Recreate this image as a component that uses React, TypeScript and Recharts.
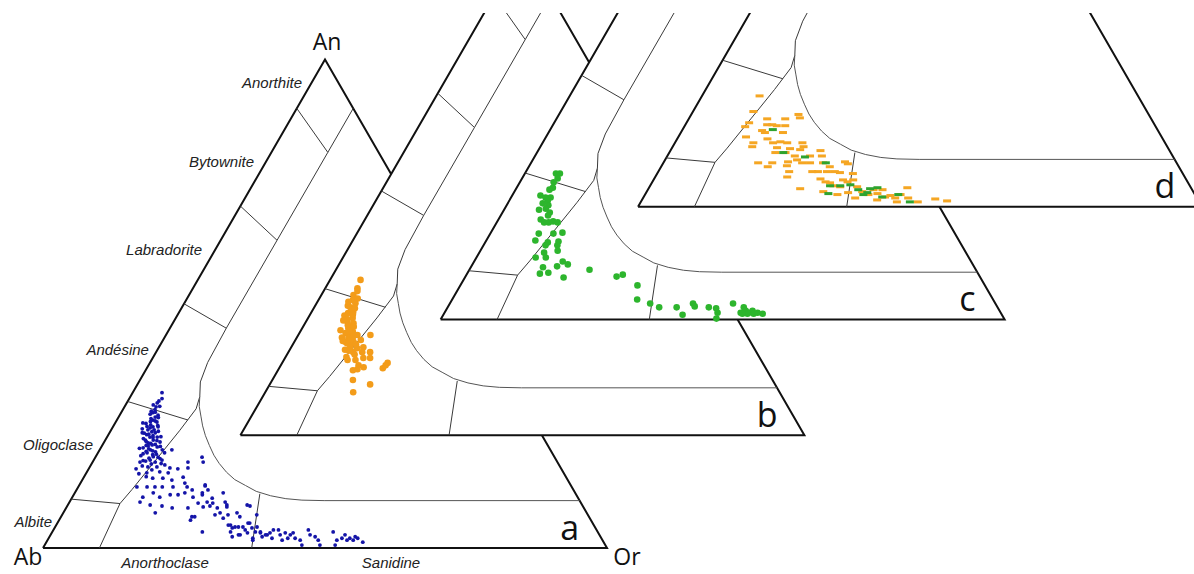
import React from 'react';
import { ScatterChart, Scatter, XAxis, YAxis } from 'recharts';

// Feldspar compositions, each as [An %, Or %] (Ab = 100 - An - Or)
const sampleA: [number, number][] = [
  [31.8,5.2],[30.1,5.5],[29.7,5.4],[28.9,5.6],[28.3,5.7],[27.7,5.6],[26.8,6.5],[26.2,6.4],[25.8,7.3],[25.2,6.5],
  [24.8,7.1],[24.8,8.0],[24.2,6.5],[23.8,7.4],[23.6,8.1],[23.2,6.8],[22.7,7.6],[22.7,8.9],[22.1,7.1],[22.1,8.5],
  [21.7,9.9],[21.5,7.9],[21.1,8.8],[20.7,9.9],[20.5,7.5],[20.1,9.0],[19.7,10.1],[20.1,11.1],[19.5,8.7],[19.1,9.9],
  [18.6,11.1],[18.0,10.0],[17.6,11.1],[18.0,12.1],[17.6,8.4],[25.6,4.9],[23.6,5.8],[20.1,12.8],[16.2,8.4],[16.6,10.3],
  [16.6,11.9],[17.0,13.1],[16.4,14.3],[15.4,10.7],[15.6,12.9],[15.4,14.5],[16.2,15.8],[16.4,17.5],[17.6,16.9],[18.6,18.9],
  [17.6,19.6],[14.3,12.3],[14.3,14.1],[13.9,15.9],[14.5,17.6],[13.3,18.5],[12.5,10.4],[12.5,12.2],[12.5,13.6],[12.5,14.9],
  [12.5,16.8],[12.5,19.3],[11.9,20.5],[12.7,22.4],[11.9,23.3],[10.4,12.5],[11.3,13.9],[10.4,15.5],[10.9,17.1],[10.9,18.5],
  [11.3,19.5],[10.4,21.4],[10.9,22.8],[10.2,24.9],[11.3,26.3],[9.4,12.5],[8.8,14.6],[8.6,16.8],[8.2,18.8],[8.2,21.6],
  [9.2,22.9],[8.4,24.2],[8.6,25.3],[8.8,28.2],[8.2,26.8],[7.2,16.3],[6.4,23.2],[5.7,23.3],[6.4,23.7],[6.8,27.1],
  [7.2,27.8],[6.8,29.4],[7.2,30.8],[8.8,31.8],[8.6,32.4],[4.7,30.9],[4.3,31.9],[4.3,32.5],[5.1,33.8],[3.3,31.6],
  [3.3,26.6],[2.7,33.3],[3.1,34.7],[6.8,34.5],[4.3,35.8],[3.3,36.9],[2.7,38.4],[2.0,36.2],[2.3,37.7],
  [12.9,22.3],[11.3,22.6],[9.4,24.4],[9.2,25.5],[9.4,27.6],[8.4,28.4],[6.1,28.9],[6.4,31.7],[4.7,30.5],[4.1,31.5],
  [4.3,33.3],[5.1,34.1],[2.3,32.4],[2.7,33.6],[3.7,34.0],[4.1,35.0],[3.3,36.0],[1.6,36.4],[3.1,37.0],[2.7,38.1],
  [3.1,38.7],[3.7,39.0],[3.7,39.9],[2.7,40.7],[3.1,41.4],[2.0,42.4],[2.7,42.5],[3.1,42.8],[2.0,43.7],[1.6,44.8],
  [3.7,45.2],[2.7,46.0],[2.3,47.1],[1.6,48.0],[0.6,48.8],[0.6,45.6],[3.3,49.8],[1.6,51.3],[0.6,51.5],[2.0,52.0],
  [2.7,52.2],[1.6,53.1],[2.0,53.4],[1.6,54.2],[2.3,54.2],[2.0,54.8],[1.2,56.1],[1.6,41.6],[2.0,39.6],
  [29.0,6.2],[28.0,5.2],[27.2,6.8],[26.5,5.9],[25.5,5.5],[24.9,6.0],[24.2,7.6],[23.5,6.2],[23.0,8.0],[22.4,6.6],
  [21.8,7.4],[21.2,9.3],[20.9,8.2],[20.4,6.9],[19.8,8.4],[19.2,10.5],[18.9,7.9],[18.4,9.6],[17.9,8.8],[17.2,10.6],
  [16.8,9.2],[16.0,11.3],[15.2,9.4],[14.6,11.0],[27.8,6.0],[26.0,6.9],[24.4,5.4],[22.8,9.5],[21.0,7.8],[19.5,11.8],
  [30.6,5.8],[29.3,4.9],[27.4,5.3],[26.7,7.1],[25.9,6.1],[25.1,7.8],[24.6,6.7],[23.9,8.5],[23.3,7.1],[22.6,8.2],
  [22.0,9.2],[21.4,8.4],[20.8,10.4],[20.3,8.6],[19.9,9.5],[19.3,8.1],[18.7,10.2],[18.3,11.6],[17.8,9.3],[17.3,12.3],
];

const sampleB: [number, number][] = [
  [31.8,5.4],[30.1,5.7],[28.7,5.7],[27.7,6.1],[27.0,6.9],[26.2,6.4],[25.2,7.4],[25.0,6.6],[24.0,7.9],[23.2,7.4],
  [22.9,8.6],[21.9,8.2],[21.1,9.4],[20.9,8.2],[20.5,10.5],[19.9,9.2],[19.1,10.5],[19.5,11.6],[19.1,9.1],[18.4,10.3],
  [17.8,11.8],[18.0,12.8],[20.5,12.8],[17.0,11.5],[17.0,13.1],[17.0,14.5],[15.4,11.3],[15.4,12.7],[15.8,13.9],[15.8,15.1],
  [14.3,13.8],[13.9,14.9],[13.3,13.3],[13.5,14.0],[13.7,18.4],[14.8,18.7],[14.3,18.6],[11.3,14.3],[10.4,17.8],[8.8,15.6],
  [29.5,6.0],[28.0,6.8],[26.5,5.8],[25.8,7.0],[24.5,6.2],[23.8,7.0],[22.5,7.8],[21.5,7.0],[20.8,9.0],[20.0,8.0],
  [19.5,9.8],[18.8,9.5],[18.0,10.5],[17.5,9.8],[16.5,12.0],[16.0,10.8],
  [27.3,5.5],[26.0,7.3],[24.7,7.6],[23.5,6.5],[22.2,9.0],[21.3,8.6],[20.2,9.9],[19.3,8.5],[18.6,11.2],[17.3,10.6],
];

const sampleC: [number, number][] = [
  [29.9,5.5],[29.9,6.2],[28.9,6.3],[28.1,6.0],[27.0,6.4],[26.6,6.0],[25.4,5.0],[25.0,6.1],[25.0,7.0],[24.4,6.8],
  [23.8,6.2],[23.4,7.4],[22.7,7.3],[22.5,6.2],[21.9,8.4],[21.3,8.4],[20.5,7.5],[19.9,8.4],[19.9,9.2],[20.1,9.9],
  [19.9,10.8],[17.6,8.6],[17.6,11.2],[17.8,12.7],[16.2,8.7],[15.8,11.1],[16.0,12.9],[15.2,13.1],[15.2,11.0],[14.1,13.7],
  [13.7,11.5],[12.7,10.5],[12.7,12.3],[11.9,15.7],[10.7,12.8],[10.9,15.2],[11.3,16.9],[9.4,12.9],[9.6,14.3],[8.6,17.5],
  [10.2,21.3],[8.8,26.8],[9.2,27.7],[7.0,31.4],[4.1,32.8],[3.3,35.5],[2.5,37.5],[2.5,40.6],[1.0,42.4],[3.3,43.1],
  [2.7,43.7],[2.5,46.3],[2.3,47.7],[1.4,48.4],[0.2,48.8],[3.3,50.2],[1.4,52.5],[2.5,52.5],[1.8,53.2],[1.4,53.9],
  [1.8,54.4],[1.2,54.9],[1.4,55.5],[1.2,56.5],[1.2,53.8],[1.2,52.9],
];

const sampleDOrange: [number, number][] = [
  [19.5,10.7],[17.2,11.1],[18.0,13.9],[18.0,17.1],[18.9,19.0],[18.2,19.6],[16.8,14.5],[16.8,15.4],[16.6,16.3],[16.6,17.8],
  [15.6,14.2],[15.2,14.9],[15.2,18.1],[14.3,12.0],[13.9,16.0],[13.1,13.9],[13.1,17.4],[13.3,18.6],[13.1,19.9],[13.1,22.6],
  [12.3,14.1],[12.1,18.6],[11.9,21.0],[11.7,22.9],[12.3,23.2],[11.1,18.8],[11.1,20.6],[11.5,26.6],[10.4,22.6],[10.4,25.3],
  [10.4,27.4],[9.0,16.8],[9.0,19.3],[8.2,18.9],[9.2,22.0],[9.6,23.4],[9.0,24.6],[9.0,26.0],[9.0,28.3],[8.2,29.9],
  [9.2,32.1],[8.8,32.8],[8.4,22.2],[7.2,23.2],[7.2,27.3],[7.2,28.3],[7.2,29.9],[7.2,31.3],[7.0,32.3],[6.1,23.4],
  [5.7,29.5],[5.1,30.7],[4.9,31.6],[5.5,33.6],[5.1,34.6],[5.5,35.4],[6.8,34.7],[4.3,32.5],[4.1,33.8],[3.7,26.9],
  [4.1,36.8],[3.1,38.2],[2.5,39.6],[2.7,41.1],[3.5,41.6],[2.0,42.8],[2.3,43.6],[1.8,44.7],[2.5,45.3],[3.9,45.8],
  [1.8,47.0],[1.0,49.1],[1.6,51.9],[1.2,54.2],[1.0,45.4],[1.4,41.7],[1.8,37.6],[2.9,35.8],[2.5,34.1],[3.1,31.3],
  [3.5,40.0],[22.7,10.2],[16.4,10.8],
];

const sampleDGreen: [number, number][] = [
  [15.8,16.0],[11.1,20.2],[10.2,24.5],[9.0,28.8],[4.3,31.9],[4.3,33.7],[2.7,32.4],[3.5,37.3],[2.5,38.7],[3.7,39.3],
  [3.9,40.5],[2.0,42.3],[2.5,44.9],[1.0,47.7],[4.5,35.4],[2.9,39.2],
];

// Classification template of the ternary diagram, points as [An %, Or %]
const outline: [number, number][] = [[0,0],[0,100],[100,0],[0,0]];
const tickLines: [number, number][][] = [
  [[10,0],[9.1,9.1]],
  [[30,0],[26.2,12.6]],
  [[50,0],[45,10]],
  [[70,0],[63,10]],
  [[90,0],[81,10]],
];
const plagBoundary: [number, number][] = [
  [0,10],[9.1,9.1],[12,9.8],[18,11],[24,12.2],[28.5,12.9],[31,12.3],[34,10.9],[38,10.2],[45,10],[63,10],[81,10],[90,10],
];
const solvus: [number, number][] = [
  [31,12.3],[29,13.2],[27,14.5],[25,15.8],[23,17.3],[21,19],[19,20.8],[17.3,22.6],[15.5,24.8],[14,27],
  [12.8,29.5],[11.6,32],[10.7,35],[10.1,38],[9.8,41],[9.7,45],[9.7,90.3],
];
const alkaliDivide: [number, number][] = [[0,37],[11.1,32.9]];

const fieldLabels = ['Anorthite', 'Bytownite', 'Labradorite', 'Andésine', 'Oligoclase', 'Albite', 'Anorthoclase', 'Sanidine'];
const cornerLabels = ['An', 'Ab', 'Or'];
const panelLetters = ['a', 'b', 'c', 'd'];

// ---- layout ----
const W = 1194;
const H = 574;
const PX = 5.64; // pixels per percent along a triangle side
const TOP = 13;
const ORIGIN_X = 43;
const ORIGIN_Y = 548;
const xDomain = [-ORIGIN_X / PX, (W - ORIGIN_X) / PX];
const yDomain = [-(H - ORIGIN_Y) / PX, (ORIGIN_Y - TOP) / PX];
const panelOffsets: [number, number][] = [[0, 0], [35, 20], [70.5, 40.5], [105.5, 60.5]];

const fieldLabelPos = [
  { x: 45.92, y: 81.56, anchor: 'end' },
  { x: 37.41, y: 67.55, anchor: 'end' },
  { x: 28.19, y: 51.95, anchor: 'end' },
  { x: 18.79, y: 34.22, anchor: 'end' },
  { x: 8.87, y: 17.38, anchor: 'end' },
  { x: 1.6, y: 3.72, anchor: 'end' },
  { x: 21.63, y: -3.55, anchor: 'middle' },
  { x: 61.7, y: -3.55, anchor: 'middle' },
];
const cornerLabelPos = [
  { x: 50.35, y: 88.3 },
  { x: -2.66, y: -3.1 },
  { x: 103.55, y: -3.1 },
];
const letterPos = { x: 93.4, y: 1.5 };

const SQ = Math.sqrt(3) / 2;
const toXY = (pts: [number, number][], off: [number, number]) =>
  pts.map(([an, or]) => ({ x: or + an / 2 + off[0], y: an * SQ + off[1] }));

const NoDot = () => <g />;
const blueDot = (p: any) => <circle cx={p.cx} cy={p.cy} r={1.9} fill="#1414a8" />;
const orangeDot = (p: any) => <circle cx={p.cx} cy={p.cy} r={3.3} fill="#f39c1a" />;
const greenDot = (p: any) => <circle cx={p.cx} cy={p.cy} r={3.3} fill="#2db52d" />;
const orangeDash = (p: any) => <rect x={p.cx - 4} y={p.cy - 1.5} width={8} height={3} fill="#f5a623" />;
const greenDash = (p: any) => <rect x={p.cx - 4} y={p.cy - 1.5} width={8} height={3} fill="#2ea32e" />;

const textShape = (font: string, size: number, style: string, color: string) => (p: any) => (
  <text
    x={p.cx}
    y={p.cy}
    textAnchor={p.payload.anchor || 'middle'}
    fontFamily={font}
    fontSize={size}
    fontStyle={style}
    fill={color}
  >
    {p.payload.text}
  </text>
);
const fieldText = textShape('"Liberation Sans", Arial, sans-serif', 15, 'italic', '#222');
const cornerText = textShape('"Open Sans", sans-serif', 23, 'normal', '#111');
const letterText = textShape('"Open Sans", sans-serif', 34, 'normal', '#111');

const panelSamples = [
  [{ data: sampleA, shape: blueDot }],
  [{ data: sampleB, shape: orangeDot }],
  [{ data: sampleC, shape: greenDot }],
  [{ data: sampleDOrange, shape: orangeDash }, { data: sampleDGreen, shape: greenDash }],
];

function panel(i: number) {
  const off = panelOffsets[i];
  const items: React.ReactElement[] = [];
  items.push(
    <Scatter key={`o${i}`} data={toXY(outline, off)} shape={NoDot} isAnimationActive={false}
      line={{ fill: '#ffffff', stroke: '#111', strokeWidth: 2, strokeLinejoin: 'miter' }} />
  );
  tickLines.forEach((t, k) =>
    items.push(
      <Scatter key={`t${i}-${k}`} data={toXY(t, off)} shape={NoDot} isAnimationActive={false}
        line={{ stroke: '#3a3a3a', strokeWidth: 1 }} />
    )
  );
  items.push(
    <Scatter key={`p${i}`} data={toXY(plagBoundary, off)} shape={NoDot} isAnimationActive={false}
      line={{ stroke: '#3a3a3a', strokeWidth: 1, fill: 'none' }} />
  );
  items.push(
    <Scatter key={`s${i}`} data={toXY(solvus, off)} shape={NoDot} isAnimationActive={false}
      line={{ stroke: '#555', strokeWidth: 1, fill: 'none' }} />
  );
  items.push(
    <Scatter key={`d${i}`} data={toXY(alkaliDivide, off)} shape={NoDot} isAnimationActive={false}
      line={{ stroke: '#3a3a3a', strokeWidth: 1 }} />
  );
  panelSamples[i].forEach((s, k) =>
    items.push(
      <Scatter key={`m${i}-${k}`} data={toXY(s.data, off)} shape={s.shape} isAnimationActive={false} />
    )
  );
  items.push(
    <Scatter key={`l${i}`} isAnimationActive={false} shape={letterText}
      data={[{ x: letterPos.x + off[0], y: letterPos.y + off[1], text: panelLetters[i], anchor: 'middle' }]} />
  );
  if (i === 0) {
    items.push(
      <Scatter key="fl" isAnimationActive={false} shape={fieldText}
        data={fieldLabels.map((t, k) => ({ ...fieldLabelPos[k], text: t }))} />
    );
    items.push(
      <Scatter key="cl" isAnimationActive={false} shape={cornerText}
        data={cornerLabels.map((t, k) => ({ ...cornerLabelPos[k], text: t, anchor: 'middle' }))} />
    );
  }
  return items;
}

export default function App() {
  return (
    <div style={{ position: 'absolute', left: 0, top: 0, width: W, height: H, background: '#fff' }}>
      <ScatterChart width={W} height={H} margin={{ top: TOP, right: 0, bottom: 0, left: 0 }}>
        <XAxis type="number" dataKey="x" domain={xDomain} hide allowDataOverflow />
        <YAxis type="number" dataKey="y" domain={yDomain} hide allowDataOverflow />
        {[0, 1, 2, 3].flatMap((i) => panel(i))}
      </ScatterChart>
    </div>
  );
}
